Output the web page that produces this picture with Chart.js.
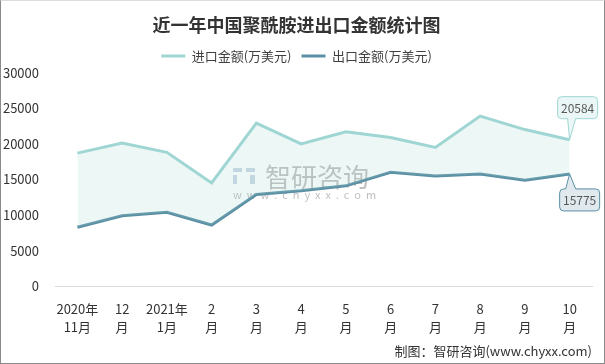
<!DOCTYPE html>
<html>
<head>
<meta charset="utf-8">
<script src="https://cdn.jsdelivr.net/npm/chart.js@4"></script>
<style>
  html, body { margin: 0; padding: 0; background: #fff; }
  #wrap { position: relative; width: 603px; height: 362px; border: 1px solid #8a8a8a; border-top-color: #ddd; }
</style>
</head>
<body>
<div id="wrap"><canvas id="myChart" width="603" height="362"></canvas></div>
<script>
const months = [['2020年', '11月'], ['12', '月'], ['2021年', '1月'], ['2', '月'], ['3', '月'], ['4', '月'],
  ['5', '月'], ['6', '月'], ['7', '月'], ['8', '月'], ['9', '月'], ['10', '月']];
const importValues = [18700, 20100, 18800, 14500, 22900, 20000, 21700, 20900, 19500, 23900, 22000, 20584];
const exportValues = [8300, 9900, 10400, 8600, 12900, 13400, 14100, 16000, 15500, 15750, 14900, 15775];
const yTicks = [0, 5000, 10000, 15000, 20000, 25000, 30000];

const fontFamily = "'Noto Sans CJK SC', 'Noto Sans', sans-serif";

// watermark + last value callouts
const extras = {
  id: 'extras',
  beforeDatasetsDraw(chart) {
    const ctx = chart.ctx;
    ctx.save();
    ctx.globalAlpha = 0.55;
    ctx.fillStyle = '#9fb4cc';
    ctx.fillRect(232, 167, 9, 4);
    ctx.fillRect(232, 174, 4, 9);
    ctx.fillRect(245, 167, 9, 4);
    ctx.fillRect(249, 174, 5, 9);
    ctx.fillStyle = '#8a8a8a';
    ctx.font = "26px " + fontFamily;
    ctx.textBaseline = 'middle';
    ctx.fillText('智研咨询', 264, 176);
    ctx.font = "11px " + fontFamily;
    ctx.fillText('w  w  w  .  c  h  y  x  x  .  c  o  m', 232, 194);
    ctx.restore();
  },
  afterDatasetsDraw(chart) {
    const ctx = chart.ctx;
    const drawBox = (pt, value, up, fill, stroke) => {
      const w = 40, h = 22;
      const bx = up ? pt.x - 12 : pt.x - 10;
      const by = up ? pt.y - 43 : pt.y + 15;
      ctx.save();
      ctx.fillStyle = fill;
      ctx.strokeStyle = stroke;
      ctx.lineWidth = 1;
      ctx.beginPath();
      if (up) {
        ctx.moveTo(bx + 4, by);
        ctx.lineTo(bx + w - 4, by);
        ctx.quadraticCurveTo(bx + w, by, bx + w, by + 4);
        ctx.lineTo(bx + w, by + h - 4);
        ctx.quadraticCurveTo(bx + w, by + h, bx + w - 4, by + h);
        ctx.lineTo(bx + 18, by + h);
        ctx.lineTo(pt.x, pt.y);
        ctx.lineTo(bx + 10, by + h);
        ctx.lineTo(bx + 4, by + h);
        ctx.quadraticCurveTo(bx, by + h, bx, by + h - 4);
        ctx.lineTo(bx, by + 4);
        ctx.quadraticCurveTo(bx, by, bx + 4, by);
      } else {
        ctx.moveTo(bx + 4, by);
        ctx.lineTo(bx + 6, by);
        ctx.lineTo(pt.x, pt.y);
        ctx.lineTo(bx + 16, by);
        ctx.lineTo(bx + w - 4, by);
        ctx.quadraticCurveTo(bx + w, by, bx + w, by + 4);
        ctx.lineTo(bx + w, by + h - 4);
        ctx.quadraticCurveTo(bx + w, by + h, bx + w - 4, by + h);
        ctx.lineTo(bx + 4, by + h);
        ctx.quadraticCurveTo(bx, by + h, bx, by + h - 4);
        ctx.lineTo(bx, by + 4);
        ctx.quadraticCurveTo(bx, by, bx + 4, by);
      }
      ctx.closePath();
      ctx.fill();
      ctx.stroke();
      ctx.fillStyle = '#595959';
      ctx.font = "12px " + fontFamily;
      ctx.textAlign = 'center';
      ctx.textBaseline = 'middle';
      ctx.fillText(String(value), bx + w / 2, by + h / 2 + 1);
      ctx.restore();
    };
    const last = importValues.length - 1;
    drawBox(chart.getDatasetMeta(0).data[last], importValues[last], true, '#eaf7f6', '#9fd6d3');
    drawBox(chart.getDatasetMeta(1).data[last], exportValues[last], false, '#dfe9ee', '#5b8fa4');
  }
};

const data = {
  labels: months,
  datasets: [
    {
      label: '进口金额(万美元)',
      data: importValues,
      borderColor: '#9fd6d3',
      backgroundColor: 'rgba(159,214,211,0.2)',
      borderWidth: 3,
      pointRadius: 0,
      tension: 0,
      fill: '+1'
    },
    {
      label: '出口金额(万美元)',
      data: exportValues,
      borderColor: '#5b8fa4',
      backgroundColor: '#5b8fa4',
      borderWidth: 3,
      pointRadius: 0,
      tension: 0,
      fill: false
    }
  ]
};

const config = {
  type: 'line',
  data: data,
  plugins: [extras],
  options: {
    responsive: false,
    animation: false,
    layout: { padding: { left: 0, right: 12, top: 4, bottom: 2 } },
    plugins: {
      title: {
        display: true,
        text: '近一年中国聚酰胺进出口金额统计图',
        color: '#333',
        font: { family: fontFamily, size: 18, weight: 'bold' },
        padding: { top: 9, bottom: 4 }
      },
      legend: {
        position: 'top',
        labels: {
          usePointStyle: true,
          pointStyle: 'line',
          pointStyleWidth: 24,
          boxHeight: 3,
          color: '#404040',
          padding: 10,
          font: { family: fontFamily, size: 13 }
        }
      },
      subtitle: {
        display: true,
        position: 'bottom',
        align: 'end',
        text: '制图：智研咨询(www.chyxx.com)',
        color: '#333',
        font: { family: fontFamily, size: 13 },
        padding: { top: 2, bottom: 2 }
      },
      tooltip: { enabled: false }
    },
    scales: {
      x: {
        offset: true,
        grid: { display: false },
        border: { display: true, color: '#d9d9d9' },
        ticks: {
          color: '#333',
          maxRotation: 0,
          autoSkip: false,
          padding: 6,
          font: { family: fontFamily, size: 13, lineHeight: 1.35 }
        }
      },
      y: {
        min: 0,
        max: 30000,
        afterBuildTicks(axis) { axis.ticks = yTicks.map(v => ({ value: v })); },
        afterFit(axis) { axis.width = 54; },
        grid: { display: false, drawTicks: false },
        border: { display: false },
        ticks: {
          color: '#333',
          padding: 16,
          callback: v => String(v),
          font: { family: fontFamily, size: 13 }
        }
      }
    }
  }
};

const myChart = new Chart(document.getElementById('myChart'), config);
</script>
</body>
</html>
